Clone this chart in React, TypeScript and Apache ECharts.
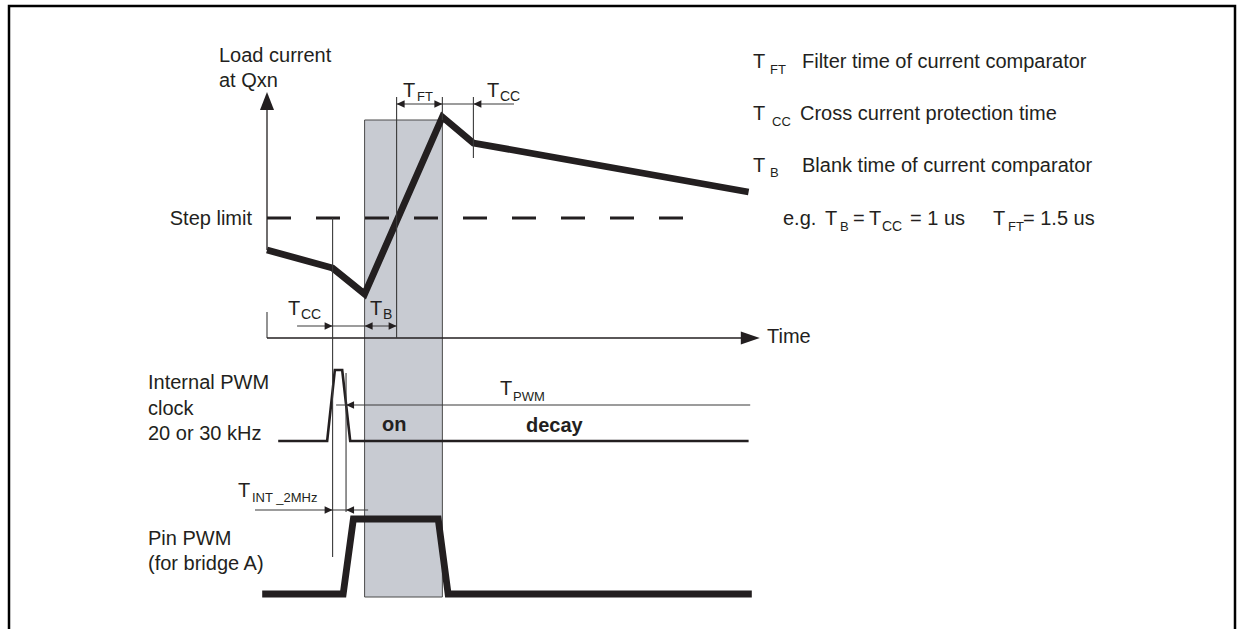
import React, { useEffect, useRef } from "react";
import * as echarts from "echarts";

const FONT = '"Liberation Sans", Arial, Helvetica, sans-serif';
const INK = "#231f20";
const THIN = "#3a3a3a";

// time axis in microseconds, load current in arbitrary units, logic levels 0/1
const loadTime = [0, 2.05, 3.05, 5.48, 6.45, 15.05];
const loadCurrent = [0.88, 0.7, 0.44, 2.21, 1.95, 1.46];
const stepLimitTime = [0, 13.2];
const stepLimitLevel = [1.2, 1.2];
const clockTime = [0.35, 1.88, 2.12, 2.35, 2.6, 15.05];
const clockLevel = [0, 0, 1, 1, 0, 0];
const pinTime = [-0.15, 2.38, 2.7, 5.35, 5.66, 15.15];
const pinLevel = [0, 0, 1, 1, 0, 0];
// event instants (µs)
const markerNames = ["clock", "on", "blankEnd", "peak", "ccEnd", "int"];
const markerTimes = [2.05, 3.05, 4.05, 5.48, 6.45, 2.47];
const timeAxisEnd = 15.4;
const currentAxisMax = 2.46;

const zip = (a: number[], b: number[]) => a.map((t, i) => [t, b[i]]);

export default function App() {
  const ref = useRef<HTMLDivElement>(null);
  useEffect(() => {
    if (!ref.current) return;
    const chart = echarts.init(ref.current, null, { renderer: "svg" });
    const gridLR = { left: 235, right: 458 };
    const lineSeries = (name: string, data: number[][], idx: number, width: number, extra: any = {}) => ({
      name,
      type: "line",
      xAxisIndex: idx,
      yAxisIndex: idx,
      data,
      symbol: "none",
      silent: true,
      clip: false,
      z: 3,
      lineStyle: { width, color: INK, join: "miter", ...extra },
    });
    chart.setOption({
      animation: false,
      backgroundColor: "#ffffff",
      grid: [
        { ...gridLR, top: 92, bottom: 291 },
        { ...gridLR, top: 370, bottom: 188 },
        { ...gridLR, top: 519, bottom: 35 },
      ],
      xAxis: [0, 1, 2].map((g) => ({ type: "value", gridIndex: g, min: -1, max: 16, show: false })),
      yAxis: [
        { type: "value", gridIndex: 0, min: 0, max: currentAxisMax, show: false },
        { type: "value", gridIndex: 1, min: 0, max: 1, show: false },
        { type: "value", gridIndex: 2, min: 0, max: 1, show: false },
      ],
      series: [
        lineSeries("Load current", zip(loadTime, loadCurrent), 0, 6.8),
        { ...lineSeries("Step limit", zip(stepLimitTime, stepLimitLevel), 0, 3, { type: [24, 25], join: "bevel" }), z: 2 },
        lineSeries("Internal PWM clock", zip(clockTime, clockLevel), 1, 2.6),
        lineSeries("Pin PWM", zip(pinTime, pinLevel), 2, 6.8),
      ],
    });

    const X = (t: number) => chart.convertToPixel({ xAxisIndex: 0 }, t) as number;
    const Y = (v: number) => chart.convertToPixel({ yAxisIndex: 0 }, v) as number;
    const m: Record<string, number> = {};
    markerNames.forEach((n, i) => (m[n] = X(markerTimes[i])));
    const x0 = X(0);
    const y0 = Y(0);
    const yTop = Y(currentAxisMax);
    const yStep = Y(stepLimitLevel[0]);

    const seg = (x1: number, y1: number, x2: number, y2: number, w = 1.1, color = THIN) => ({
      type: "line",
      z: 5,
      silent: true,
      shape: { x1, y1, x2, y2 },
      style: { stroke: color, lineWidth: w },
    });
    const head = (x: number, y: number, dir: number, len = 8, hw = 3.8) => ({
      type: "polygon",
      z: 6,
      silent: true,
      shape: { points: [[x, y], [x - dir * len, y - hw], [x - dir * len, y + hw]] },
      style: { fill: INK },
    });
    const txt = (x: number, y: number, text: string, size = 20, extra: any = {}) => ({
      type: "text",
      z: 10,
      silent: true,
      x,
      y,
      style: {
        text,
        fontSize: size,
        fontFamily: FONT,
        fill: INK,
        align: "left",
        textAlign: "left",
        verticalAlign: "middle",
        textVerticalAlign: "middle",
        ...extra,
      },
    });
    const sub = (x: number, y: number, s: string, sx: number, sy: number, size = 13) => [
      txt(x, y, "T", 20),
      txt(sx, sy, s, size),
    ];

    const elements: any[] = [
      // frame
      { type: "rect", z: 1, silent: true, shape: { x: 9, y: 6, width: 1226, height: 640 }, style: { fill: "none", stroke: "#000", lineWidth: 2.5 } },
      // on-phase shading
      {
        type: "rect",
        z: 0,
        silent: true,
        shape: { x: m.on, y: 120, width: m.peak - m.on, height: 477 },
        style: { fill: "#c8cbd2", stroke: "#4a4a4a", lineWidth: 1 },
      },
      // load current axis
      seg(x0, yTop + 16, x0, Y(loadCurrent[0]), 1.3, INK),
      { type: "polygon", z: 6, silent: true, shape: { points: [[x0, yTop], [x0 - 7, yTop + 18], [x0 + 7, yTop + 18]] }, style: { fill: INK } },
      seg(x0, 312, x0, y0, 1.1),
      // time axis
      seg(x0, y0, X(timeAxisEnd) - 15, y0, 1.3, INK),
      { type: "polygon", z: 6, silent: true, shape: { points: [[X(timeAxisEnd), y0], [X(timeAxisEnd) - 19, y0 - 6.5], [X(timeAxisEnd) - 19, y0 + 6.5]] }, style: { fill: INK } },
      // vertical reference lines
      seg(m.clock, yStep, m.clock, 557),
      seg(m.blankEnd, 97, m.blankEnd, y0),
      seg(m.peak, 97, m.peak, 120),
      seg(m.ccEnd, 97, m.ccEnd, 158),
      seg(m.int, 373, m.int, 512),
      // TFT / TCC at the top
      seg(m.blankEnd, 104, X(7.72), 104),
      head(m.blankEnd, 104, -1),
      head(m.peak, 104, 1),
      head(m.ccEnd, 104, -1),
      // TCC / TB at the bottom
      seg(X(0.94), 326, m.blankEnd, 326),
      head(m.clock, 326, 1),
      head(m.on, 326, -1),
      head(m.blankEnd, 326, 1),
      // TPWM
      seg(X(2.16), 405, X(15.1), 405),
      head(m.int, 405, -1),
      // TINT_2MHz
      seg(X(-0.375), 510, X(3.16), 510),
      head(m.clock, 510, 1),
      head(m.int, 510, -1),
      // labels
      txt(219, 55, "Load current"),
      txt(219, 79.5, "at Qxn"),
      txt(252, 217.5, "Step limit", 20, { align: "right", textAlign: "right" }),
      txt(767, 336, "Time"),
      txt(148, 382, "Internal PWM"),
      txt(148, 407.5, "clock"),
      txt(148, 432.5, "20 or 30 kHz"),
      txt(148, 537.5, "Pin PWM"),
      txt(148, 562.5, "(for bridge A)"),
      txt(382, 424, "on", 20, { fontWeight: "bold" }),
      txt(526, 425, "decay", 20, { fontWeight: "bold" }),
      ...sub(403, 90, "FT", 417, 96, 13),
      ...sub(487, 90, "CC", 500, 96, 14),
      ...sub(288, 308, "CC", 301, 314, 14),
      ...sub(370, 308, "B", 383, 314, 14),
      ...sub(500, 388, "PWM", 513, 396.5, 13),
      ...sub(238, 490, "INT _2MHz", 252, 497, 13),
      // legend
      ...sub(753, 60.5, "FT", 770, 69, 13),
      txt(802, 60.5, "Filter time of current comparator"),
      ...sub(753, 113, "CC", 772, 121, 13),
      txt(800, 113, "Cross current protection time"),
      ...sub(753, 165, "B", 770, 172, 13),
      txt(802, 165, "Blank time of current comparator"),
      txt(783, 217.5, "e.g."),
      ...sub(825, 217.5, "B", 840, 226, 13),
      txt(853, 217.5, "="),
      ...sub(869, 217.5, "CC", 882, 226, 14),
      txt(910, 217.5, "= 1 us"),
      ...sub(993, 217.5, "FT", 1008, 226, 13),
      txt(1023, 217.5, "= 1.5 us"),
    ];
    chart.setOption({ graphic: { elements } });
    return () => chart.dispose();
  }, []);
  return (
    <div
      ref={ref}
      style={{ position: "fixed", left: 0, top: 0, width: 1237, height: 629, background: "#fff" }}
    />
  );
}
